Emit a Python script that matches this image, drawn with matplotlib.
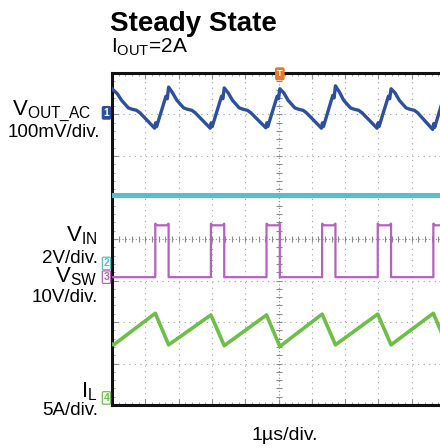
import matplotlib
matplotlib.use("Agg")
import matplotlib.pyplot as plt
import numpy as np

plt.rcParams['font.family'] = ['Liberation Sans', 'DejaVu Sans']
plt.rcParams['mathtext.default'] = 'regular'

# ---- data (time in us, 1 us/div) ----
# VOUT_AC ripple, mV (100 mV/div)
vout_t = [0.00, 0.16, 0.29, 0.49, 0.59, 0.74, 0.84, 1.28, 1.31, 1.34, 1.62, 1.66,
          1.70, 1.82, 1.95, 2.15, 2.25, 2.40, 2.50, 2.95, 2.98, 3.01, 3.29, 3.33,
          3.37, 3.49, 3.62, 3.82, 3.92, 4.07, 4.17, 4.62, 4.65, 4.68, 4.96, 5.00,
          5.04, 5.16, 5.29, 5.49, 5.59, 5.74, 5.84, 6.29, 6.32, 6.35, 6.63, 6.67,
          6.71, 6.83, 6.96, 7.16, 7.26, 7.41, 7.51, 7.96, 7.99, 8.02, 8.30, 8.34,
          8.38, 8.50, 8.63, 8.83, 8.93, 9.08, 9.18, 9.63, 9.66, 9.69, 9.97, 10.01,
          10.05]
vout_mv = [58, 46, 30, 12, 9, 6, 0, -37, -24, -33, 40, 34,
           62, 48, 30, 12, 9, 6, 0, -37, -24, -33, 40, 34,
           60, 48, 30, 12, 9, 6, 0, -36, -24, -33, 40, 34,
           58, 48, 30, 12, 9, 6, 0, -37, -24, -33, 42, 36,
           65, 50, 30, 12, 9, 6, 0, -37, -24, -33, 40, 34,
           58, 48, 30, 12, 9, 6, 0, -40, -26, -35, 40, 34,
           60]

# VIN (AC level, V, 2 V/div)
vin_t = [0.0, 10.0]
vin_v = [3.2, 3.2]

# VSW edges (us) and levels (V, 10 V/div)
sw_rise = [1.30, 2.97, 4.64, 6.31, 7.98, 9.65]
sw_fall = [1.70, 3.37, 5.04, 6.71, 8.38, 10.05]
sw_low, sw_high, sw_horn = 0.0, 12.5, 12.9

# IL, A (5 A/div): peaks at VSW rise, valleys at VSW fall
il_t = [0.00, 0.05, 1.30, 1.70, 2.97, 3.37, 4.64, 5.04, 6.31, 6.71, 7.98, 8.38, 9.65, 10.05]
il_a = [7.0, 6.9, 10.7, 6.9, 10.5, 6.8, 10.5, 6.7, 10.6, 6.9, 10.6, 6.9, 10.7, 6.9]

# ground markers (div) and scales
OFF = {'vout': 7.04, 'vin': 3.45, 'sw': 3.08, 'il': 0.07}
SCALE = {'vout': 100.0, 'vin': 2.0, 'sw': 10.0, 'il': 5.0}

C_BLUE, C_CYAN, C_MAG, C_GRN, C_ORG = '#2c4f9f', '#55bfcb', '#b462bf', '#6cbf47', '#e8782a'

W, H = 440, 448
fig = plt.figure(figsize=(W / 100, H / 100), dpi=100)
ax = fig.add_axes([112 / W, (H - 405) / H, 333 / W, 332 / H])
ax.set_xlim(0, 10)
ax.set_ylim(0, 8)

# graticule
for x in range(1, 10):
    if x != 5:
        ax.axvline(x, color='#a0a0a0', lw=0.8, ls=(0, (1, 4)), zorder=1)
for y in range(1, 8):
    if y != 4:
        ax.axhline(y, color='#a0a0a0', lw=0.8, ls=(0, (1, 4)), zorder=1)
ax.axvline(5, color='#8a8a8a', lw=0.8, ls=(0, (1, 2)), zorder=1)
ax.axhline(4, color='#8a8a8a', lw=0.8, ls=(0, (1, 2)), zorder=1)
ty = np.arange(0, 8.01, 0.2)
tx = np.arange(0, 10.01, 0.2)
ax.plot(np.full_like(ty, 5), ty, ls='none', marker='_', ms=5, mew=0.8, color='#8a8a8a', zorder=1)
ax.plot(tx, np.full_like(tx, 4), ls='none', marker='|', ms=5, mew=0.8, color='#8a8a8a', zorder=1)

ax.set_xticks(range(0, 11))
ax.set_yticks(range(0, 9))
ax.set_xticks(tx, minor=True)
ax.set_yticks(ty, minor=True)
ax.tick_params(which='both', direction='in', top=True, right=True, color='#909090',
               labelbottom=False, labelleft=False)
ax.tick_params(which='major', length=4)
ax.tick_params(which='minor', length=2.5)
for s in ax.spines.values():
    s.set_linewidth(2.2)
    s.set_color('#111111')

# traces
def to_div(vals, key):
    return [OFF[key] + v / SCALE[key] for v in vals]

ax.plot(vin_t, to_div(vin_v, 'vin'), color=C_CYAN, lw=3.6, zorder=3)

sw_t, sw_v = [0.0], [sw_low]
for r, f in zip(sw_rise, sw_fall):
    sw_t += [r, r, r + 0.05, f - 0.05, f, f]
    sw_v += [sw_low, sw_horn, sw_high, sw_high, sw_horn, sw_low]
sw_t.append(10.2)
sw_v.append(sw_low)
ax.plot(sw_t, to_div(sw_v, 'sw'), color=C_MAG, lw=1.6, zorder=3)

ax.plot(il_t, to_div(il_a, 'il'), color=C_GRN, lw=2.6, zorder=3)
ax.plot(vout_t, to_div(vout_mv, 'vout'), color=C_BLUE, lw=2.4, zorder=4)

# channel tags and trigger mark
def tag(y, num, edge, face, tc):
    ax.text(-0.08, y, num, ha='right', va='center', fontsize=7.5, color=tc, fontweight='bold',
            bbox=dict(boxstyle='round,pad=0.12', fc=face, ec=edge, lw=0.9),
            clip_on=False, zorder=10)

tag(OFF['vout'], '1', C_BLUE, C_BLUE, 'white')
tag(OFF['vin'] - 0.04, '2', C_CYAN, 'white', C_CYAN)
tag(OFF['sw'], '3', C_MAG, 'white', C_MAG)
tag(OFF['il'] + 0.1, '4', C_GRN, 'white', C_GRN)
ax.text(5.04, 7.98, 'T', ha='center', va='center', fontsize=6.5, color='white', fontweight='bold',
        bbox=dict(boxstyle='round,pad=0.15', fc=C_ORG, ec=C_ORG), clip_on=False, zorder=10)

# labels (pixel positions, baseline)
def label(x, y, s, size=13.5, **kw):
    fig.text(x / W, 1 - y / H, s, fontsize=size, va='baseline', **kw)

label(110, 31, 'Steady State', size=20, fontweight='bold')
label(111, 53, r'I$_{OUT}$=2A', size=15)
label(92, 115, r'V$_{OUT\_AC}$', size=16, ha='right')
label(100, 137, '100mV/div.', ha='right')
label(97, 241, r'V$_{IN}$', size=16, ha='right')
label(98, 263, '2V/div.', ha='right')
label(97, 282, r'V$_{SW}$', size=16, ha='right')
label(98, 302, '10V/div.', ha='right')
label(97, 397, r'I$_{L}$', size=16, ha='right')
label(98, 415, '5A/div.', ha='right')
label(285, 440, '1µs/div.', size=14, ha='center')

fig.savefig('out.png', dpi=100)
